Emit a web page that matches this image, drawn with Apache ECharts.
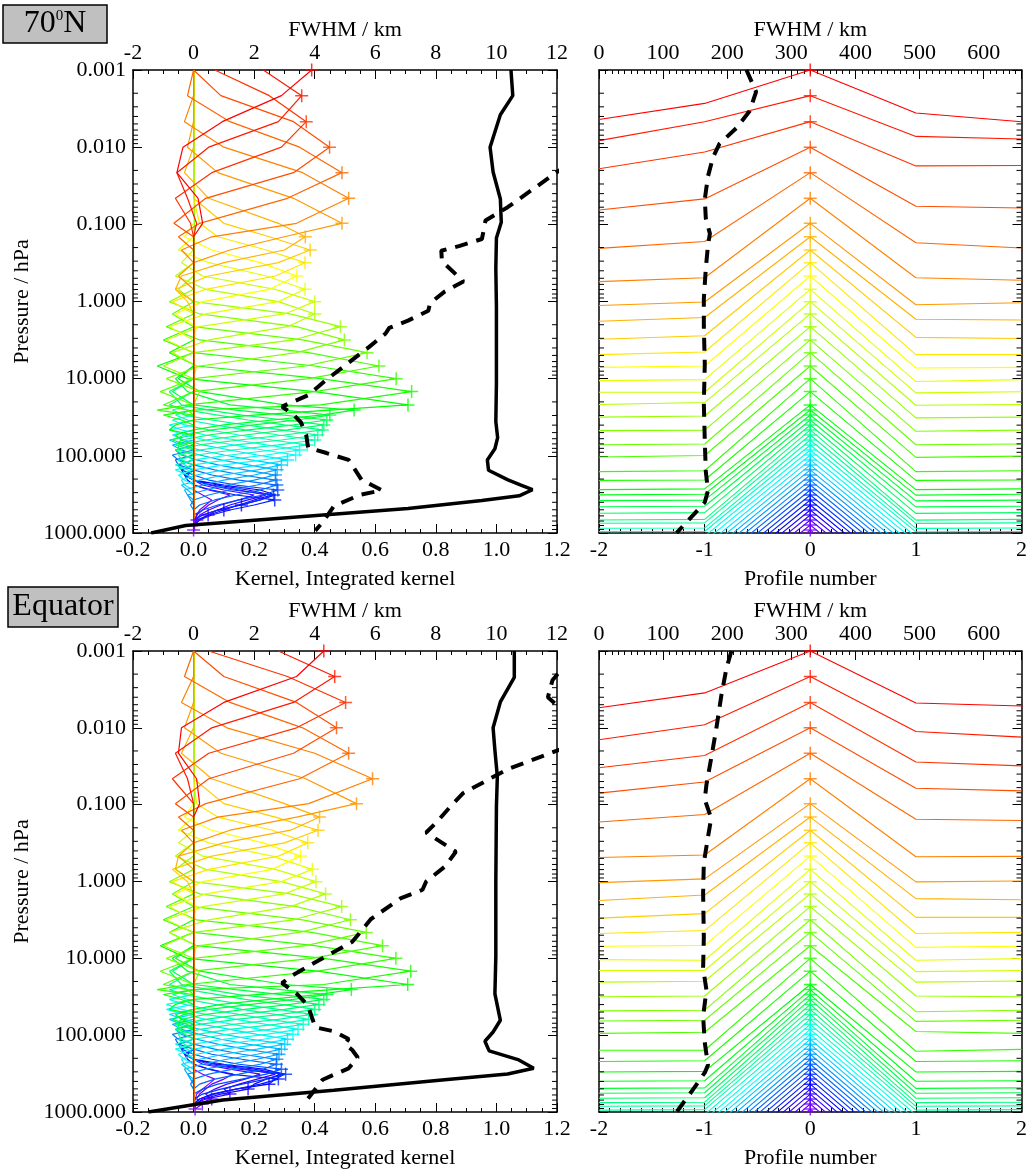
<!DOCTYPE html>
<html><head><meta charset="utf-8">
<script src="https://cdn.jsdelivr.net/npm/echarts@6/dist/echarts.min.js"></script>
<style>html,body{margin:0;padding:0;background:#fff}#c{width:1030px;height:1170px}</style>
</head><body><div id="c"></div>
<script>
// ---------------- DATA ----------------
// retrieval levels (hPa), index 0 = top
const levels = [0.001,0.00215,0.00467,0.0100,0.0214,0.0460,0.097,0.145,0.215,0.314,0.467,0.695,1.005,1.45,2.12,3.15,4.6,6.85,10.0,14.7,21.9,
  25.5,29.6,34.3,39.8,46.2,53.7,62.4,72.3,84.0,97.5,113,131,152,177,206,239,277,322,373,434,503,584,678,787,914];

// vertical averaging kernels, 70N: first level index of each kernel window, and window values
const kStart70 = [0,0,0,0,1,2,3,4,5,6,7,8,9,10,11,12,13,14,15,16,17,18,18,19,19,20,21,22,23,24,25,26,27,28,29,30,31,32,33,34,34,34,35,36,37,38];
const kVal70 = [
 [0.39,0.29,0.095,-0.035,-0.055,0.015,0.03,0.0],
 [0.23,0.357,0.28,0.05,-0.055,-0.02,0.01,0.0],
 [0.07,0.25,0.372,0.29,0.06,-0.06,-0.01,0.0],
 [0.0,0.09,0.33,0.449,0.33,0.04,-0.065,0.0,0.0],
 [-0.02,0.12,0.35,0.49,0.31,0.02,-0.05,0.0],
 [-0.03,0.10,0.36,0.512,0.34,0.06,-0.04,0.0],
 [-0.02,0.08,0.33,0.49,0.30,0.12,0.0,-0.05,0.0],
 [-0.03,0.05,0.28,0.369,0.30,0.10,-0.04,-0.06,0.0],
 [0.0,0.10,0.25,0.385,0.28,0.05,-0.06,-0.02],
 [0.02,0.08,0.24,0.368,0.27,0.04,-0.07,0.0],
 [-0.03,0.06,0.22,0.341,0.25,0.03,-0.06,0.01],
 [-0.05,0.05,0.24,0.368,0.28,0.04,-0.08,0.0],
 [-0.04,0.03,0.27,0.40,0.30,0.02,-0.09,0.0],
 [-0.06,0.04,0.28,0.40,0.31,0.05,-0.07,0.01],
 [-0.05,0.0,0.32,0.485,0.33,0.0,-0.10,0.0],
 [-0.08,0.02,0.34,0.498,0.34,0.02,-0.09,0.02],
 [-0.07,0.0,0.36,0.573,0.37,0.0,-0.11,0.0],
 [-0.09,0.02,0.38,0.612,0.38,0.0,-0.10,-0.02],
 [-0.10,0.0,0.40,0.669,0.40,-0.02,-0.12,0.0],
 [-0.08,0.01,0.42,0.72,0.42,0.0,-0.10,-0.04],
 [-0.12,-0.02,0.40,0.708,0.45,0.20,0.0,-0.06,-0.08],
 [-0.05,0.02,0.30,0.53,0.42,0.26,0.10,0.0,-0.06,-0.04],
 [-0.06,-0.02,0.12,0.30,0.45,0.34,0.20,0.06,-0.03,-0.07,-0.02],
 [-0.07,0.0,0.14,0.30,0.44,0.33,0.18,0.05,-0.04,-0.06,0.0],
 [-0.08,-0.04,0.05,0.16,0.30,0.43,0.31,0.17,0.04,-0.05,-0.05],
 [-0.08,-0.02,0.08,0.18,0.30,0.425,0.30,0.15,0.02,-0.06,-0.03],
 [-0.07,-0.03,0.06,0.17,0.29,0.41,0.29,0.14,0.02,-0.05,-0.04],
 [-0.06,-0.02,0.07,0.17,0.28,0.40,0.28,0.13,0.01,-0.05,-0.03],
 [-0.07,-0.03,0.05,0.15,0.26,0.375,0.26,0.12,0.0,-0.06,-0.02],
 [-0.08,-0.04,0.04,0.14,0.24,0.35,0.24,0.11,0.0,-0.06,-0.02],
 [-0.08,-0.03,0.04,0.13,0.23,0.337,0.23,0.10,0.0,-0.05,-0.03],
 [-0.07,-0.03,0.03,0.12,0.21,0.31,0.22,0.10,0.01,-0.04,-0.03],
 [-0.08,-0.04,0.02,0.10,0.19,0.29,0.21,0.10,0.02,-0.04,-0.02],
 [-0.07,-0.04,0.02,0.09,0.18,0.276,0.20,0.10,0.03,-0.03,-0.02],
 [-0.06,-0.04,0.01,0.08,0.17,0.27,0.20,0.11,0.04,-0.02,-0.01],
 [-0.07,-0.05,0.0,0.07,0.16,0.271,0.21,0.12,0.05,0.0,-0.01],
 [-0.06,-0.05,0.0,0.06,0.15,0.275,0.22,0.14,0.07,0.02,0.0],
 [-0.05,-0.04,0.0,0.05,0.14,0.278,0.23,0.15,0.08,0.03,0.0],
 [-0.04,-0.03,0.0,0.05,0.13,0.264,0.22,0.15,0.08,0.03,0.0],
 [-0.03,-0.02,0.0,0.06,0.14,0.268,0.20,0.12,0.06,0.02,0.0],
 [-0.03,0.0,0.10,0.22,0.27,0.22,0.158,0.08,0.03,0.0],
 [-0.02,0.0,0.08,0.18,0.26,0.20,0.15,0.10,0.05,0.01],
 [0.0,0.06,0.15,0.24,0.18,0.12,0.08,0.048,0.02,0.0],
 [0.03,0.10,0.20,0.15,0.09,0.05,0.02,0.011,0.0],
 [0.05,0.12,0.08,0.05,0.03,0.01,0.005,0.003,0.0],
 [0.03,0.06,0.04,0.02,0.01,0.005,0.0,0.0]
];

// vertical averaging kernels, Equator
const kStartEq = [0,0,0,0,1,2,3,4,5,6,7,8,9,10,11,12,13,14,15,16,17,18,18,19,19,20,21,22,23,24,25,26,27,28,29,30,31,32,33,34,34,34,35,36,37,38];
const kValEq = [
 [0.43,0.34,0.10,-0.04,-0.05,0.01,0.02,0.0],
 [0.28,0.466,0.33,0.06,-0.06,-0.02,0.0],
 [0.05,0.31,0.502,0.34,0.05,-0.07,0.0],
 [0.0,0.10,0.34,0.472,0.33,0.05,-0.06,0.0],
 [-0.03,0.12,0.36,0.512,0.35,0.04,-0.05,0.0],
 [-0.04,0.11,0.40,0.591,0.38,0.08,-0.04,0.0],
 [-0.03,0.09,0.37,0.538,0.34,0.12,0.0,-0.05,0.0],
 [-0.04,0.06,0.30,0.416,0.32,0.10,-0.05,-0.06,0.0],
 [0.0,0.10,0.27,0.411,0.30,0.06,-0.07,-0.02],
 [0.01,0.08,0.26,0.377,0.28,0.05,-0.07,0.0],
 [-0.03,0.06,0.23,0.353,0.26,0.03,-0.06,0.01],
 [-0.05,0.05,0.26,0.392,0.29,0.04,-0.08,0.0],
 [-0.05,0.03,0.27,0.404,0.30,0.03,-0.09,0.0],
 [-0.06,0.04,0.29,0.436,0.32,0.05,-0.08,0.01],
 [-0.06,0.0,0.32,0.489,0.33,0.0,-0.10,0.0],
 [-0.08,0.02,0.34,0.518,0.35,0.02,-0.09,0.02],
 [-0.07,0.0,0.36,0.57,0.37,0.0,-0.11,0.0],
 [-0.09,0.01,0.39,0.624,0.39,0.0,-0.10,-0.02],
 [-0.10,0.0,0.40,0.668,0.41,-0.02,-0.12,0.0],
 [-0.08,0.01,0.43,0.717,0.43,0.0,-0.10,-0.04],
 [-0.11,-0.02,0.41,0.707,0.46,0.21,0.0,-0.06,-0.08],
 [-0.06,0.02,0.30,0.521,0.41,0.25,0.09,0.0,-0.06,-0.04],
 [-0.07,-0.02,0.12,0.29,0.44,0.33,0.19,0.05,-0.03,-0.07,-0.02],
 [-0.07,0.0,0.14,0.29,0.43,0.32,0.17,0.04,-0.04,-0.06,0.0],
 [-0.08,-0.04,0.05,0.15,0.29,0.414,0.30,0.16,0.04,-0.05,-0.05],
 [-0.08,-0.02,0.08,0.17,0.29,0.40,0.29,0.14,0.02,-0.06,-0.03],
 [-0.08,-0.03,0.06,0.16,0.28,0.39,0.28,0.13,0.02,-0.05,-0.04],
 [-0.07,-0.02,0.07,0.16,0.27,0.38,0.27,0.12,0.01,-0.05,-0.03],
 [-0.08,-0.03,0.05,0.15,0.25,0.362,0.25,0.11,0.0,-0.06,-0.02],
 [-0.09,-0.04,0.04,0.14,0.24,0.345,0.24,0.10,0.0,-0.06,-0.02],
 [-0.09,-0.03,0.04,0.13,0.22,0.328,0.23,0.10,0.0,-0.05,-0.03],
 [-0.08,-0.03,0.03,0.12,0.21,0.31,0.22,0.10,0.01,-0.04,-0.03],
 [-0.08,-0.04,0.02,0.10,0.19,0.301,0.21,0.10,0.02,-0.04,-0.02],
 [-0.07,-0.04,0.02,0.09,0.18,0.29,0.21,0.11,0.03,-0.03,-0.02],
 [-0.06,-0.04,0.01,0.08,0.17,0.282,0.21,0.12,0.04,-0.02,-0.01],
 [-0.07,-0.05,0.0,0.07,0.16,0.275,0.22,0.13,0.05,0.0,-0.01],
 [-0.06,-0.05,0.0,0.06,0.16,0.273,0.23,0.15,0.07,0.02,0.0],
 [-0.05,-0.04,0.0,0.06,0.15,0.29,0.24,0.16,0.08,0.03,0.0],
 [-0.04,-0.03,0.0,0.05,0.15,0.304,0.24,0.16,0.09,0.03,0.0],
 [-0.03,-0.02,0.0,0.05,0.12,0.28,0.22,0.14,0.07,0.02,0.0],
 [-0.03,0.0,0.10,0.23,0.30,0.27,0.249,0.14,0.06,0.02,0.0],
 [-0.02,0.0,0.08,0.20,0.29,0.24,0.20,0.18,0.09,0.03,0.01],
 [0.0,0.07,0.17,0.27,0.21,0.15,0.10,0.12,0.04,0.0],
 [0.03,0.12,0.22,0.17,0.11,0.07,0.04,0.06,0.01],
 [0.05,0.13,0.10,0.06,0.04,0.02,0.01,0.029,0.005],
 [0.03,0.07,0.05,0.03,0.01,0.006,0.0,0.005]
];

// integrated kernel (value, pressure)
const intK70V = [1.048,1.054,1.013,0.979,0.989,1.013,1.016,1.0,0.998,1.0,1.0,1.0,0.998,1.004,0.995,0.97,0.974,1.038,1.081,1.119,1.075,0.952,0.708,0.341,-0.026,-0.14];
const intK70P = [0.001,0.00215,0.0038,0.010,0.021,0.047,0.094,0.15,0.37,1.17,3.7,11.5,36,58,81,113,154,205,240,275,330,380,480,620,800,1000];
const intKEqV = [1.059,1.059,1.013,0.989,0.995,1.003,1.0,0.998,0.998,0.995,1.013,0.989,0.962,0.976,1.074,1.123,1.037,0.829,0.463,0.096,-0.149];
const intKEqP = [0.001,0.0022,0.0046,0.010,0.0197,0.043,0.106,1.0,9.5,29,64,91,120,160,210,270,320,380,520,700,1000];

// vertical FWHM (km, pressure)
const fw70V = [13.5,12.0,10.37,9.64,9.58,9.52,8.79,8.18,8.2,8.91,8.30,7.81,7.75,7.08,6.46,6.34,5.79,5.12,4.39,3.78,2.92,3.29,3.54,3.72,3.78,4.39,5.12,5.55,6.22,5.49,4.63,4.27,4.02];
const fw70P = [0.008,0.021,0.060,0.089,0.119,0.155,0.19,0.22,0.30,0.55,0.74,1.05,1.32,1.77,2.2,2.6,3.9,6.2,10.3,16.4,23,29,36.5,54,78,92,113,205,280,320,450,720,930];
const fwEqV = [12.5,11.85,11.7,12.1,13.0,12.8,12.0,10.37,8.9,8.48,8.05,7.68,8.66,8.3,7.68,7.56,6.83,5.85,5.24,4.14,3.28,2.92,3.41,3.77,4.02,4.63,5.12,5.0,5.24,5.42,5.12,4.26,3.77,3.65];
const fwEqP = [0.0012,0.0024,0.0040,0.0055,0.009,0.015,0.0198,0.0345,0.071,0.106,0.165,0.23,0.41,0.64,1.0,1.28,1.66,3.1,6.1,10.6,16.5,21,29,41,79,89,112,131,156,195,270,380,675,846];

// horizontal kernels: pressure of each line at profiles -2,-1,(0 = level),+1,+2
const profiles = [-2,-1,0,1,2];
const hM2_70 = [0.00438,0.00822,0.0190,0.0652,0.205,0.553,1.127,1.80,3.09,4.88,7.13,10.6,15.0,21.6,31.5,47.1,71.9,103.5,160,208,274,321,381,456,555,678,748,869,961,1115,1290,1500,1740,2020,2340,2720,3150,3660,4250,4930,5720,6640,7700,8940,10400,12000];
const hM1_70 = [0.00271,0.00469,0.01155,0.0468,0.167,0.493,1.014,1.61,2.78,4.51,6.85,10.3,15.0,20.4,30.5,46.5,70.2,98.9,156,205.6,268,315,375,450,545,665,740,860,955,1100,1270,1480,1720,2000,2310,2690,3110,3620,4200,4870,5650,6560,7610,8830,10300,11900];
const hP1_70 = [0.00361,0.00725,0.0175,0.0582,0.173,0.493,1.10,1.70,2.92,4.88,7.28,10.9,15.3,22.1,32.2,48.1,71.9,104.7,160,208,274,323,383,458,557,680,750,872,965,1115,1290,1500,1740,2020,2340,2720,3150,3660,4250,4930,5720,6640,7700,8940,10400,12000];
const hP2_70 = [0.00469,0.00783,0.0173,0.0614,0.203,0.530,1.04,1.74,3.01,4.88,7.13,10.3,14.8,21.6,31.5,46.5,70.2,101,156,205.6,268,315,375,450,545,665,740,860,955,1100,1270,1480,1720,2000,2310,2690,3110,3620,4200,4870,5650,6560,7610,8830,10300,11900];
const hM2_Eq = [0.00548,0.01426,0.0330,0.0708,0.168,0.488,1.033,1.77,3.0,4.75,6.95,10.4,14.4,20.4,31.6,48.3,65.5,94.8,157,220,301,398,492,570,661,755,843,944,1090,1260,1460,1700,1970,2290,2660,3090,3590,4170,4840,5620,6520,7570,8790,10200,11800,13700];
const hM1_Eq = [0.00351,0.00912,0.0229,0.0506,0.134,0.451,0.923,1.50,2.62,4.35,6.79,10.6,14.4,19.9,30.9,47.3,64.0,91.6,157,215,296,392,485,562,652,745,832,932,1080,1250,1450,1680,1950,2270,2630,3060,3550,4120,4790,5560,6450,7490,8700,10100,11700,13600];
const hP1_Eq = [0.00475,0.01114,0.0279,0.0612,0.155,0.476,1.01,1.67,2.93,4.75,7.19,10.6,14.9,20.4,30.9,49.5,66.2,89.5,162,220,301,398,492,570,661,755,843,944,1090,1260,1460,1700,1970,2290,2660,3090,3590,4170,4840,5620,6520,7570,8790,10200,11800,13700];
const hP2_Eq = [0.0052,0.0132,0.0313,0.0662,0.161,0.471,0.986,1.73,2.93,4.59,6.95,10.1,14.4,19.7,31.6,47.3,64.0,94.8,153,215,296,392,485,562,652,745,832,932,1080,1250,1450,1680,1950,2270,2630,3060,3550,4120,4790,5560,6450,7490,8700,10100,11700,13600];

// horizontal FWHM (km, pressure)
const hfw70V = [230,245,235,214,188,178,170,165,166.6,173,170,166.6,163.5,163.5,165,163.5,165,166.6,170,165,149,121];
const hfw70P = [0.001,0.00192,0.0034,0.00569,0.009,0.0134,0.0238,0.0473,0.0838,0.132,0.186,0.372,0.927,2.07,6.49,20.4,64,160,283,399,562,998];
const hfwEqV = [206.5,198.7,191,183,175,167.6,165,175,170,163.5,162.4,163.5,162.4,167.6,162.4,165,170,165,149,121];
const hfwEqP = [0.001,0.0017,0.00371,0.0102,0.0249,0.0547,0.0857,0.150,0.263,0.575,1.41,5.42,13.3,26,57,125,245,307,479,1000];

// ---------------- STYLE / BUILD ----------------
const FONT = 'Liberation Serif';
const TXT = {color:'#000', fontFamily:FONT, fontSize:22};
const PLUS = 'path://M-0.8,-7H0.8V-0.8H7V0.8H0.8V7H-0.8V0.8H-7V-0.8H-0.8Z';
const col = k => `hsl(${270*k/45},100%,50%)`;
const grids = [
  {left:133, top:70, width:424, height:463},
  {left:599, top:70, width:423, height:463},
  {left:133, top:651, width:424, height:462},
  {left:599, top:651, width:423, height:462}
];
const minorP = [];
for (let e = -3; e <= 2; e++) for (let m = 2; m <= 9; m++) minorP.push(m * Math.pow(10, e));

function xAx(g, pos, min, max, interval, minorSplit, name, fmt) {
  return {type:'value', gridIndex:g, position:pos, min, max, interval,
    axisLine:{show:true, onZero:false, lineStyle:{color:'#000', width:1.5}},
    axisTick:{show:true, inside:true, length:9, lineStyle:{color:'#000', width:1}},
    minorTick:{show:true, splitNumber:minorSplit, length:4, lineStyle:{color:'#000', width:1}},
    splitLine:{show:false}, minorSplitLine:{show:false},
    axisLabel:Object.assign({show:true, margin:6, formatter:fmt}, TXT),
    name, nameLocation:'middle', nameGap: pos === 'top' ? 20 : 35, nameTextStyle:TXT};
}
function yAx(g, pos, labels) {
  return {type:'log', logBase:10, gridIndex:g, position:pos, min:0.001, max:1000, inverse:true, splitNumber:6,
    axisLine:{show:true, onZero:false, lineStyle:{color:'#000', width:1.5}},
    axisTick:{show:true, inside:true, length:9, lineStyle:{color:'#000', width:1}},
    splitLine:{show:false},
    axisLabel:Object.assign({show:labels, margin:7, formatter: v => Number(v).toFixed(3)}, TXT),
    name: labels ? 'Pressure / hPa' : '', nameLocation:'middle', nameGap:100, nameRotate:90, nameTextStyle:TXT};
}
const xAxis = [], yAxis = [];
[0,2].forEach(g => {
  xAxis[2*g]   = xAx(g,'bottom',-0.2,1.2,0.2,4,'Kernel, Integrated kernel', v => v.toFixed(1));
  xAxis[2*g+1] = xAx(g,'top',-2,12,2,4,'FWHM / km', v => String(Math.round(v)));
  xAxis[2*g+2] = xAx(g+1,'bottom',-2,2,1,10,'Profile number', v => String(Math.round(v)));
  xAxis[2*g+3] = xAx(g+1,'top',0,659,100,10,'FWHM / km', v => (Math.round(v) % 100 === 0 ? String(Math.round(v)) : ''));
  yAxis[2*g]   = yAx(g,'left',true);
  yAxis[2*g+1] = yAx(g,'right',false);
  yAxis[2*g+2] = yAx(g+1,'left',false);
  yAxis[2*g+3] = yAx(g+1,'right',false);
});

const series = [];
const base = {silent:true, animation:false};
function minorTicks(g, xmin, xmax) {
  series.push(Object.assign({type:'custom', xAxisIndex:2*g, yAxisIndex:2*g, z:10,
    data: minorP.map(p => [xmin, p]),
    renderItem: (params, api) => {
      const a = api.coord([xmin, api.value(1)]), b = api.coord([xmax, api.value(1)]);
      return {type:'group', children:[
        {type:'line', shape:{x1:a[0], y1:a[1], x2:a[0]+5, y2:a[1]}, style:{stroke:'#000', lineWidth:1}},
        {type:'line', shape:{x1:b[0], y1:b[1], x2:b[0]-5, y2:b[1]}, style:{stroke:'#000', lineWidth:1}}]};
    }}, base));
}
function vertPanel(g, starts, vals, iV, iP, fV, fP) {
  for (let k = 45; k >= 0; k--) {
    const s = starts[k], v = vals[k], e = s + v.length - 1, pts = [];
    // kernel is ~0 outside its window: run along zero to the top and bottom levels
    if (s > 0) { pts.push([0, levels[0]]); if (s > 1) pts.push([0, levels[s - 1]]); }
    v.forEach((x, i) => pts.push([x, levels[s + i]]));
    if (e < 45) { if (e < 44) pts.push([0, levels[e + 1]]); pts.push([0, levels[45]]); }
    series.push(Object.assign({type:'line', xAxisIndex:2*g, yAxisIndex:2*g, data:pts, symbol:'none', z:2,
      lineStyle:{color:col(k), width:1.2}}, base));
  }
  series.push(Object.assign({type:'scatter', xAxisIndex:2*g, yAxisIndex:2*g, symbol:PLUS, symbolSize:13, z:3, clip:false,
    data: levels.map((p, k) => ({value:[vals[k][k - starts[k]], p], itemStyle:{color:col(k)}}))}, base));
  series.push(Object.assign({type:'line', xAxisIndex:2*g, yAxisIndex:2*g, symbol:'none', z:4,
    data: iV.map((v, i) => [v, iP[i]]), lineStyle:{color:'#000', width:3.5}}, base));
  series.push(Object.assign({type:'line', xAxisIndex:2*g+1, yAxisIndex:2*g, symbol:'none', z:4,
    data: fV.map((v, i) => [v, fP[i]]), lineStyle:{color:'#000', width:4, type:[13,9], cap:'butt'}}, base));
  minorTicks(g, -0.2, 1.2);
}
function horizPanel(g, m2, m1, p1, p2, fV, fP) {
  for (let k = 45; k >= 0; k--) {
    const ys = [m2[k], m1[k], levels[k], p1[k], p2[k]];
    series.push(Object.assign({type:'line', xAxisIndex:2*g, yAxisIndex:2*g, symbol:'none', z:2,
      data: profiles.map((x, i) => [x, ys[i]]), lineStyle:{color:col(k), width:1.1}}, base));
  }
  series.push(Object.assign({type:'scatter', xAxisIndex:2*g, yAxisIndex:2*g, symbol:PLUS, symbolSize:13, z:3, clip:false,
    data: levels.map((p, k) => ({value:[0, p], itemStyle:{color:col(k)}}))}, base));
  series.push(Object.assign({type:'line', xAxisIndex:2*g+1, yAxisIndex:2*g, symbol:'none', z:4,
    data: fV.map((v, i) => [v, fP[i]]), lineStyle:{color:'#000', width:4, type:[13,9], cap:'butt'}}, base));
  minorTicks(g, -2, 2);
}
vertPanel(0, kStart70, kVal70, intK70V, intK70P, fw70V, fw70P);
horizPanel(1, hM2_70, hM1_70, hP1_70, hP2_70, hfw70V, hfw70P);
vertPanel(2, kStartEq, kValEq, intKEqV, intKEqP, fwEqV, fwEqP);
horizPanel(3, hM2_Eq, hM1_Eq, hP1_Eq, hP2_Eq, hfwEqV, hfwEqP);

function titleBox(x, y, w, h, rich) {
  return {type:'group', x, y, children:[
    {type:'rect', shape:{x:0, y:0, width:w, height:h}, style:{fill:'#c0c0c0', stroke:'#000', lineWidth:1.5}},
    {type:'text', x:w/2, y:h/2, style:Object.assign({align:'center', verticalAlign:'middle'}, rich)}]};
}
const chart = echarts.init(document.getElementById('c'), null, {renderer:'canvas'});
chart.setOption({
  animation:false, backgroundColor:'#fff',
  grid: grids, xAxis, yAxis, series,
  graphic: [
    titleBox(3, 5, 104, 38, {text:'{a|70}{b|0}{a|N}', rich:{a:{fontFamily:FONT, fontSize:32, fill:'#000'}, b:{fontFamily:FONT, fontSize:15, fill:'#000', padding:[0,0,15,0]}}}),
    titleBox(8, 587, 110, 40, {text:'Equator', fontFamily:FONT, fontSize:32, fill:'#000'})
  ]
});
</script></body></html>
